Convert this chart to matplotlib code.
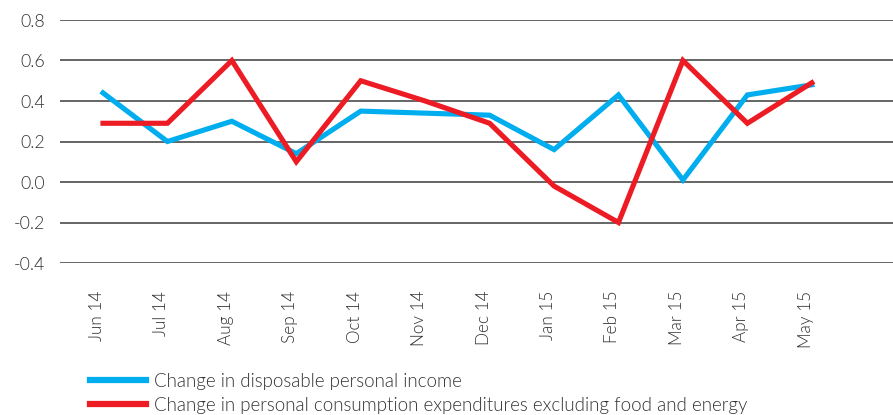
import matplotlib
matplotlib.use("Agg")
import matplotlib.pyplot as plt
import matplotlib.transforms as mtransforms

months = ["Jun 14", "Jul 14", "Aug 14", "Sep 14", "Oct 14", "Nov 14",
          "Dec 14", "Jan 15", "Feb 15", "Mar 15", "Apr 15", "May 15"]
income = [0.44, 0.20, 0.30, 0.14, 0.35, 0.34, 0.33, 0.16, 0.43, 0.01, 0.43, 0.48]
pce = [0.29, 0.29, 0.60, 0.10, 0.50, 0.40, 0.29, -0.02, -0.20, 0.60, 0.29, 0.49]
yticks = [-0.4, -0.2, 0.0, 0.2, 0.4, 0.6, 0.8]

plt.rcParams['font.family'] = ['Lato', 'DejaVu Sans']
plt.rcParams['font.weight'] = 300
text_color = '#333333'

fig = plt.figure(figsize=(8.93, 4.15), dpi=100)
ax = fig.add_axes([60/893, 1-263/415, 1-60/893, (263-20)/415])

x = list(range(len(months)))
ax.plot(x, income, color='#00AEEF', lw=3.7, solid_joinstyle='miter',
        label='Change in disposable personal income', zorder=3)
ax.plot(x, pce, color='#ED1C24', lw=3.7, solid_joinstyle='miter',
        label='Change in personal consumption expenditures excluding food and energy', zorder=4)

ax.set_xlim(-0.667, 12.26)
ax.set_ylim(-0.4, 0.8)
ax.set_yticks(yticks)
ax.set_yticklabels([f"{v:.1f}" for v in yticks])
for y in yticks:
    ax.axhline(y, color='#3c3c3c', lw=1.1, zorder=1)
ax.set_xticks(x)
ax.set_xticklabels(months, rotation=90, ha='center', va='top')
ax.tick_params(axis='x', length=0, pad=20, labelsize=12.3, colors=text_color)
ax.tick_params(axis='y', length=0, pad=11, labelsize=12.8, colors=text_color)
for s in ax.spines.values():
    s.set_visible(False)

offset = mtransforms.ScaledTranslation(-6/100, 0, fig.dpi_scale_trans)
for lab in ax.get_xticklabels():
    lab.set_transform(lab.get_transform() + offset)

leg = fig.legend(loc='upper left', bbox_to_anchor=(90/893, 1-373/415),
                 frameon=False, borderpad=0, borderaxespad=0,
                 handlelength=3.0, handletextpad=0.4, labelspacing=0.35,
                 prop={'size': 13.5, 'weight': 300})
for t in leg.get_texts():
    t.set_color(text_color)
for h in leg.get_lines():
    h.set_linewidth(4.5)

fig.savefig('out.png', dpi=100)
